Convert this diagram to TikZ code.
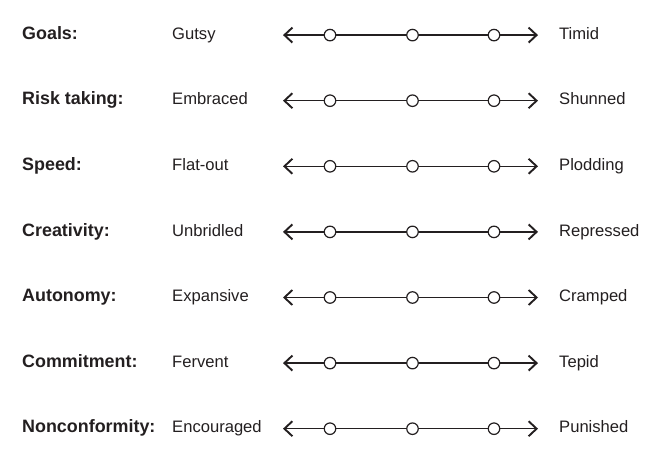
\documentclass[tikz,border=0pt]{standalone}
\usepackage{fontspec}
\setmainfont{Liberation Sans}
\usetikzlibrary{arrows.meta}
\definecolor{ink}{HTML}{231F20}
\begin{document}
\begin{tikzpicture}[x=1pt,y=-1pt,
  cat/.style={anchor=base west,inner sep=0pt,font=\fontsize{17.9}{20}\selectfont\bfseries,text=ink},
  pole/.style={anchor=base west,inner sep=0pt,font=\fontsize{16.6}{20}\selectfont,text=ink},
  scale line/.style={draw=ink,line width=1.4pt,{Straight Barb[length=8pt,width=15pt,line width=1.9pt]}-{Straight Barb[length=8pt,width=15pt,line width=1.9pt]}},
  dot/.style={circle,draw=ink,fill=white,line width=1.2pt,minimum size=11.5pt,inner sep=0pt}]
\useasboundingbox (0,0) rectangle (667,470);
\foreach \i/\c/\l/\r in {0/Goals:/Gutsy/Timid,
  1/Risk taking:/Embraced/Shunned,
  2/Speed:/Flat-out/Plodding,
  3/Creativity:/Unbridled/Repressed,
  4/Autonomy:/Expansive/Cramped,
  5/Commitment:/Fervent/Tepid,
  6/Nonconformity:/Encouraged/Punished}{
  \pgfmathsetmacro{\yb}{39.3+65.6*\i}
  \pgfmathsetmacro{\ya}{\yb-4.2}
  \node[cat] (c\i) at (22,\yb) {\c};
  \node[pole] (l\i) at (172,\yb) {\l};
  \node[pole] (r\i) at (559,\yb) {\r};
  \coordinate (a\i) at (283,\ya);
  \coordinate (b\i) at (538,\ya);
  \draw[scale line] (a\i) -- (b\i);
  \node[dot] (p\i) at (330,\ya) {};
  \node[dot] (q\i) at (412.5,\ya) {};
  \node[dot] (s\i) at (494,\ya) {};
}
\end{tikzpicture}
\end{document}
